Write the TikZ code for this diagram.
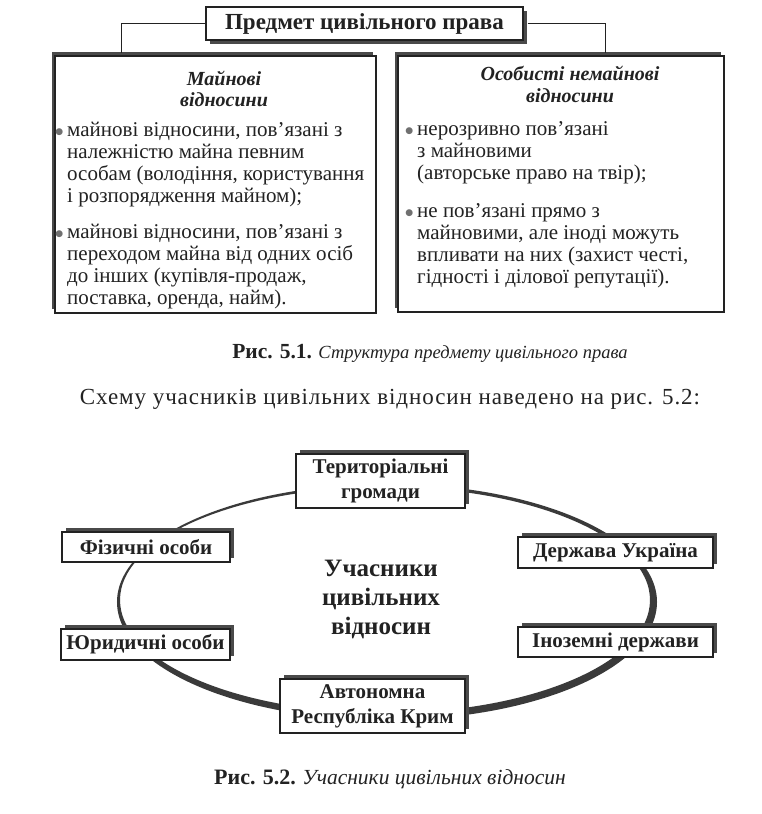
\documentclass[tikz,border=0pt]{standalone}
\usepackage{fontspec}
\setmainfont{Liberation Serif}
\newfontfamily\symfont{DejaVu Sans}
\usetikzlibrary{shadows}
\definecolor{ink}{HTML}{222222}
\definecolor{shade}{HTML}{4A4A4A}
\definecolor{ring}{HTML}{3A3A3A}
\definecolor{dotc}{HTML}{707070}
\newcommand{\bul}{\makebox[0pt][r]{\raisebox{1.5bp}{\textcolor{dotc}{\fontsize{9bp}{9bp}\symfont ●}}\hspace{4bp}}}
\begin{document}
\begin{tikzpicture}[x=1bp,y=-1bp,
  box/.style={draw=ink, line width=1.1bp, fill=white, inner sep=0pt, align=center, text=ink,
    font=\fontsize{21bp}{25bp}\selectfont\bfseries},
  shtr/.style={drop shadow={shadow xshift=4bp, shadow yshift=4bp, fill=shade, opacity=1}},
  shbr/.style={drop shadow={shadow xshift=4bp, shadow yshift=-4bp, fill=shade, opacity=1}},
  shtl/.style={drop shadow={shadow xshift=-3bp, shadow yshift=4bp, fill=shade, opacity=1}},
  body/.style={anchor=base west, align=left, inner sep=0pt, text=ink,
    font=\fontsize{21bp}{22bp}\selectfont},
  head/.style={anchor=base, align=center, inner sep=0pt, text=ink,
    font=\fontsize{20bp}{21bp}\selectfont\bfseries\itshape},
  capt/.style={anchor=base, inner sep=0pt, text=ink, font=\fontsize{19bp}{22bp}\selectfont},
  link/.style={draw=ink, line width=0.8bp}
]
\useasboundingbox (0,0) rectangle (762,814);
\fill[white] (0,0) rectangle (762,814);

% ---------- Figure 5.1 ----------
\node[box, shtl, minimum width=321bp, minimum height=257bp] (lbox) at (215.5,184.5) {};
\node[box, shtl, minimum width=326bp, minimum height=256bp] (rbox) at (561,184) {};
\node[box, shbr, minimum width=317bp, minimum height=33bp,
  font=\fontsize{23bp}{25bp}\selectfont\bfseries] (title) at (364.5,23.5) {Предмет цивільного права};

\coordinate (lj) at (121,53);
\coordinate (rj) at (605,53);
\draw[link] (title.west) -| (lj);
\draw[link] ([xshift=4bp]title.east) -| (rj);

\node[head] (lhead) at (224,106) {Майнові\\відносини};
\node[head] (rhead) at (570,102) {Особисті немайнові\\відносини};

\node[body] (l1) at (67,202) {\bul майнові відносини, пов’язані з\\належністю майна певним\\особам (володіння, користування\\і розпорядження майном);};
\node[body] (l2) at (67,304) {\bul майнові відносини, пов’язані з\\переходом майна від одних осіб\\до інших (купівля-продаж,\\поставка, оренда, найм).};

\node[body] (r1) at (417,179) {\bul нерозривно пов’язані\\з майновими\\(авторське право на твір);};
\node[body] (r2) at (417,283) {\bul не пов’язані прямо з\\майновими, але іноді можуть\\впливати на них (захист честі,\\гідності і ділової репутації).};

\node[capt] (cap1) at (430,358) {{\fontsize{21.5bp}{22bp}\selectfont\bfseries Рис. 5.1.} {\fontsize{18.5bp}{22bp}\selectfont\itshape Структура предмету цивільного права}};

\node[capt, font=\fontsize{23bp}{24bp}\selectfont\addfontfeature{LetterSpace=4}] (sent) at (390,404) {Схему учасників цивільних відносин наведено на рис. 5.2:};

% ---------- Figure 5.2 ----------
\fill[ring, even odd rule] (387,602) ellipse [x radius=270bp, y radius=118bp]
                           (385,600) ellipse [x radius=265bp, y radius=113bp];

\node[text=ink, align=center, inner sep=0pt, font=\fontsize{25bp}{29bp}\selectfont\bfseries] (centre) at (381,599) {Учасники\\цивільних\\відносин};

\node[box, shtr, minimum width=169bp, minimum height=54bp] (ter) at (380.5,481) {Територіальні\\громади};
\node[box, shtr, minimum width=168bp, minimum height=30bp] (fiz) at (146,547) {Фізичні особи};
\node[box, shtr, minimum width=169bp, minimum height=31bp] (yur) at (145.5,644.5) {Юридичні особи};
\node[box, shtr, minimum width=195bp, minimum height=31bp] (derzh) at (615.5,552.5) {Держава Україна};
\node[box, shtr, minimum width=195bp, minimum height=30bp] (inoz) at (615.5,642) {Іноземні держави};
\node[box, shtr, minimum width=185bp, minimum height=54bp] (avt) at (372.5,706) {Автономна\\Республіка Крим};

\node[capt] (cap2) at (390,784) {{\fontsize{22bp}{22bp}\selectfont\bfseries Рис. 5.2.} {\fontsize{21.5bp}{22bp}\selectfont\itshape Учасники цивільних відносин}};
\end{tikzpicture}
\end{document}
